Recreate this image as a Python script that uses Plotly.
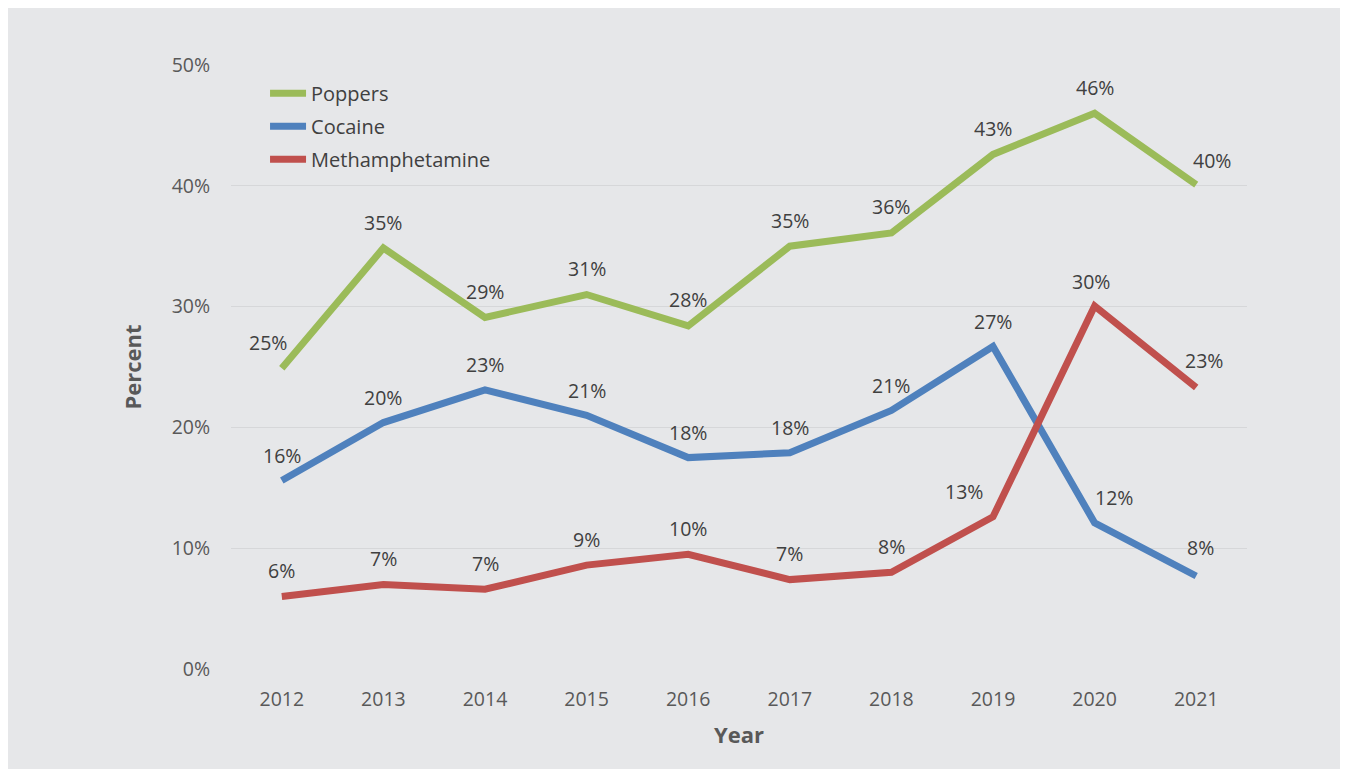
import plotly.graph_objects as go

years = [2012, 2013, 2014, 2015, 2016, 2017, 2018, 2019, 2020, 2021]
year_labels = ["2012", "2013", "2014", "2015", "2016", "2017", "2018", "2019", "2020", "2021"]
poppers = [24.9, 34.85, 29.1, 31.0, 28.4, 35.0, 36.1, 42.6, 46.0, 40.1]
cocaine = [15.6, 20.4, 23.1, 21.0, 17.5, 17.9, 21.4, 26.7, 12.1, 7.7]
meth = [6.0, 7.0, 6.6, 8.6, 9.5, 7.4, 8.0, 12.6, 30.05, 23.3]
y_ticks = [0, 10, 20, 30, 40, 50]
y_tick_labels = ["0%", "10%", "20%", "30%", "40%", "50%"]

series = [
    ("Poppers", poppers, "#9bbb59"),
    ("Cocaine", cocaine, "#4f81bd"),
    ("Methamphetamine", meth, "#c0504d"),
]

# label offsets (pixels) per point, style only
offsets = {
    "Poppers": [(-14, 26)] + [(0, 26)] * 8 + [(16, 24)],
    "Cocaine": [(0, 25)] * 8 + [(19, 25), (4, 28)],
    "Methamphetamine": [(0, 26)] * 7 + [(-29, 25), (-4, 25), (8, 27)],
}

text_color = "#404040"
tick_color = "#595959"
font_family = "Open Sans"
fs = 19.5

fig = go.Figure()
annotations = []
for name, vals, color in series:
    fig.add_trace(go.Scatter(
        x=years, y=vals, mode="lines", name=name,
        line=dict(color=color, width=7), legendgroup=name,
    ))
    for j, (yr, v) in enumerate(zip(years, vals)):
        dx, dy = offsets[name][j]
        annotations.append(dict(
            x=yr, y=v, xref="x", yref="y", text=f"{round(v):.0f}%",
            showarrow=False, xshift=dx, yshift=dy,
            font=dict(family=font_family, size=fs, color=text_color),
        ))

fig.update_layout(
    width=1348, height=761,
    margin=dict(l=223, r=109, t=57, b=100),
    paper_bgcolor="#e6e7e9",
    plot_bgcolor="#e6e7e9",
    font=dict(family=font_family, size=fs, color=text_color),
    annotations=annotations,
    legend=dict(x=0.0335, y=0.9855, xanchor="left", yanchor="top",
                bgcolor="rgba(0,0,0,0)", tracegroupgap=4, itemwidth=36,
                font=dict(family=font_family, size=20, color=text_color)),
    showlegend=True,
)
fig.update_xaxes(
    range=[2011.5, 2021.5], tickvals=years, ticktext=year_labels,
    showgrid=False, zeroline=False,
    showline=False, ticks="outside", ticklen=13, tickcolor="rgba(0,0,0,0)",
    tickfont=dict(family=font_family, size=fs, color=tick_color),
    title=dict(text="<b>Year</b>", standoff=16,
               font=dict(family=font_family, size=22, color=tick_color)),
)
fig.update_yaxes(
    range=[0, 50], tickvals=y_ticks, ticktext=y_tick_labels,
    showgrid=True, gridcolor="#d6d7d9", gridwidth=1, zeroline=False,
    showline=False, ticks="outside", ticklen=16, tickcolor="rgba(0,0,0,0)",
    tickfont=dict(family=font_family, size=fs, color=tick_color),
    title=dict(text="<b>Percent</b>", standoff=23,
               font=dict(family=font_family, size=22, color=tick_color)),
)

fig.write_html("out.html")
